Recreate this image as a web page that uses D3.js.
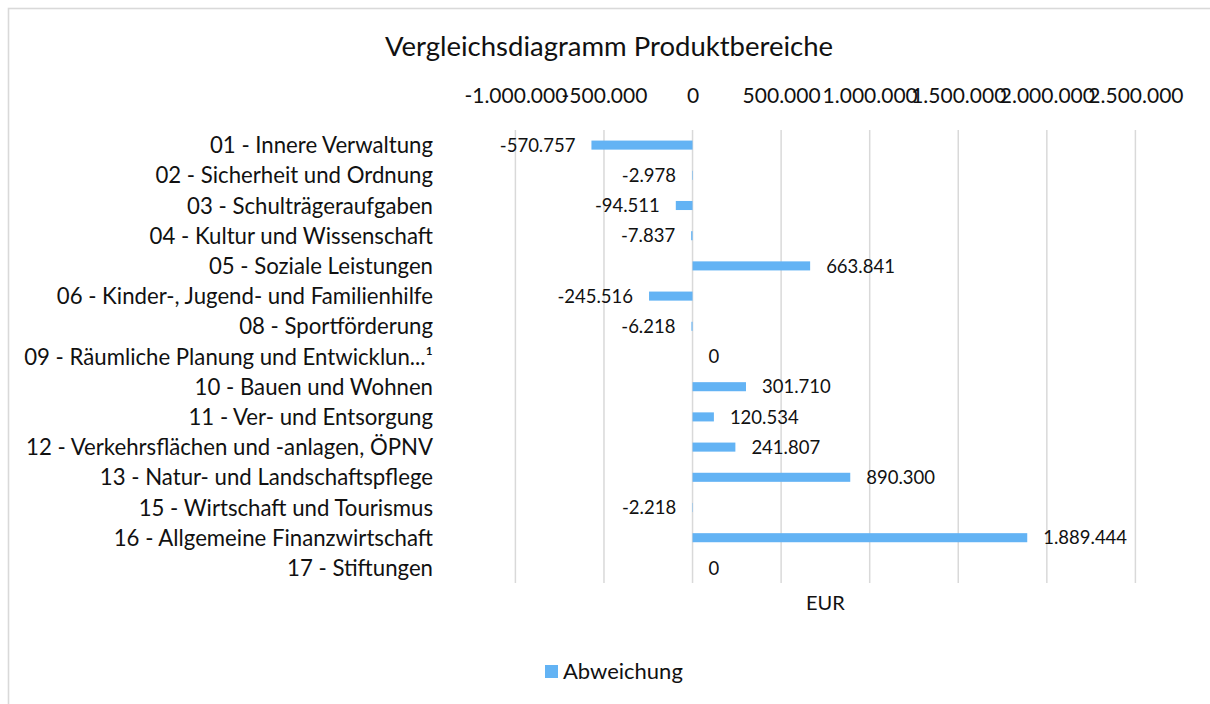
<!DOCTYPE html>
<html>
<head>
<meta charset="utf-8">
<script src="https://cdn.jsdelivr.net/npm/d3@7"></script>
<style>
  html, body { margin: 0; padding: 0; background: #fff; }
  svg { display: block; }
  text { font-family: Lato, "Open Sans", sans-serif; fill: #111; }
</style>
</head>
<body>
<svg id="chart" width="1210" height="704"></svg>
<script>
const title = "Vergleichsdiagramm Produktbereiche";
const categories = [
  "01 - Innere Verwaltung",
  "02 - Sicherheit und Ordnung",
  "03 - Schulträgeraufgaben",
  "04 - Kultur und Wissenschaft",
  "05 - Soziale Leistungen",
  "06 - Kinder-, Jugend- und Familienhilfe",
  "08 - Sportförderung",
  "09 - Räumliche Planung und Entwicklun...¹",
  "10 - Bauen und Wohnen",
  "11 - Ver- und Entsorgung",
  "12 - Verkehrsflächen und -anlagen, ÖPNV",
  "13 - Natur- und Landschaftspflege",
  "15 - Wirtschaft und Tourismus",
  "16 - Allgemeine Finanzwirtschaft",
  "17 - Stiftungen"
];
const abweichung = [-570757, -2978, -94511, -7837, 663841, -245516, -6218, 0, 301710, 120534, 241807, 890300, -2218, 1889444, 0];
const tickValues = [-1000000, -500000, 0, 500000, 1000000, 1500000, 2000000, 2500000];
const seriesName = "Abweichung";
const axisTitle = "EUR";

const locale = d3.formatLocale({decimal: ",", thousands: ".", grouping: [3], currency: ["", " €"], minus: "-"});
const fmt = locale.format(",d");

const svg = d3.select("#chart");
const barColor = "#63b3f4";
const gridColor = "#d9d9d9";

// outer border
svg.append("rect")
  .attr("x", 8.5).attr("y", 8.5)
  .attr("width", 1220).attr("height", 720)
  .attr("fill", "none").attr("stroke", gridColor).attr("stroke-width", 1.6);

const plot = {left: 515.4, right: 1135.4, top: 130, bottom: 583};

const x = d3.scaleLinear().domain([-1000000, 2500000]).range([plot.left, plot.right]);
const y = d3.scaleBand().domain(categories).range([plot.top, plot.bottom])
  .paddingInner(0.7).paddingOuter(0.35);

// title
svg.append("text")
  .attr("x", 609).attr("y", 56)
  .attr("text-anchor", "middle")
  .style("font-size", "27.5px")
  .text(title);

// gridlines
svg.append("g").selectAll("line")
  .data(tickValues).join("line")
  .attr("x1", d => x(d)).attr("x2", d => x(d))
  .attr("y1", plot.top).attr("y2", plot.bottom)
  .attr("stroke", gridColor).attr("stroke-width", 1.5);

// top axis labels
const axis = d3.axisTop(x).tickValues(tickValues).tickFormat(fmt).tickSize(0).tickPadding(0);
const gAxis = svg.append("g").attr("transform", "translate(0,103)").call(axis);
gAxis.select(".domain").remove();
gAxis.selectAll("text")
  .attr("dy", 0)
  .style("font-size", "21px")
  .style("font-family", "Lato, sans-serif")
  .attr("fill", "#111");

// category labels
const yAxis = d3.axisLeft(y).tickSize(0).tickPadding(0);
const gY = svg.append("g").attr("transform", "translate(433,0)").call(yAxis);
gY.select(".domain").remove();
gY.selectAll("text")
  .attr("dy", "0.36em")
  .style("font-size", "22.2px")
  .style("font-family", "Lato, sans-serif")
  .attr("fill", "#111");

// bars
svg.append("g").selectAll("rect")
  .data(abweichung).join("rect")
  .attr("x", d => Math.min(x(0), x(d)))
  .attr("width", d => Math.abs(x(d) - x(0)))
  .attr("y", (d, i) => y(categories[i]))
  .attr("height", y.bandwidth())
  .attr("fill", barColor);

// data labels
svg.append("g").selectAll("text")
  .data(abweichung).join("text")
  .attr("x", d => d < 0 ? x(d) - 16 : x(d) + 16)
  .attr("y", (d, i) => y(categories[i]) + y.bandwidth() / 2)
  .attr("dy", "0.36em")
  .attr("text-anchor", d => d < 0 ? "end" : "start")
  .style("font-size", "18.5px")
  .text(d => fmt(d));

// axis title
svg.append("text")
  .attr("x", (plot.left + plot.right) / 2).attr("y", 610)
  .attr("text-anchor", "middle")
  .style("font-size", "20px")
  .text(axisTitle);

// legend
const leg = svg.append("g");
leg.append("rect").attr("x", 545).attr("y", 665).attr("width", 13).attr("height", 13).attr("fill", barColor);
leg.append("text").attr("x", 563).attr("y", 679).style("font-size", "22px").text(seriesName);
</script>
</body>
</html>
